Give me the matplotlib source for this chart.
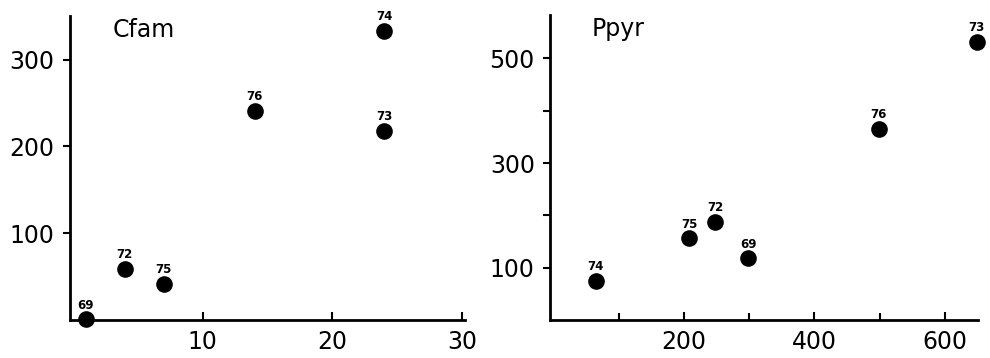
import matplotlib.pyplot as plt

# Cfam panel
cfam_x = [1, 4, 7, 14, 24, 24]
cfam_y = [1, 59, 42, 241, 218, 333]
cfam_labels = ['69', '72', '75', '76', '73', '74']

# Ppyr panel
ppyr_x = [65, 208, 248, 299, 499, 649]
ppyr_y = [75, 156, 188, 118, 366, 532]
ppyr_labels = ['74', '75', '72', '69', '76', '73']

plt.rcParams['font.family'] = ['DejaVu Sans']

fig = plt.figure(figsize=(9.9, 3.58), dpi=100)
ax1 = fig.add_axes([0.0707, 0.106, 0.399, 0.849])
ax2 = fig.add_axes([0.5556, 0.106, 0.4323, 0.852])


def style(ax):
    for s in ['top', 'right']:
        ax.spines[s].set_visible(False)
    for s in ['left', 'bottom']:
        ax.spines[s].set_linewidth(2)
    ax.tick_params(axis='x', direction='in', length=6, width=1.5, pad=7, labelsize=17)
    ax.tick_params(axis='y', direction='out', length=5, width=1.5, pad=6, labelsize=17)
    ax.tick_params(which='minor', length=5, width=1.5)


def draw(ax, xs, ys, labels, title, tx):
    ax.scatter(xs, ys, s=120, color='black', zorder=3, clip_on=False)
    for x, y, t in zip(xs, ys, labels):
        ax.annotate(t, (x, y), xytext=(0, 5.5), textcoords='offset points',
                    ha='center', va='bottom', fontsize=8.5, fontweight='bold')
    ax.text(tx, 0.995, title, transform=ax.transAxes, fontsize=17, va='top', ha='left')
    style(ax)


draw(ax1, cfam_x, cfam_y, cfam_labels, 'Cfam', 0.108)
ax1.set_xlim(-0.2, 30.2)
ax1.set_ylim(0, 350)
ax1.set_xticks([10, 20, 30])
ax1.set_yticks([100, 200, 300])

draw(ax2, ppyr_x, ppyr_y, ppyr_labels, 'Ppyr', 0.098)
ax2.set_xlim(-5, 651)
ax2.set_ylim(0, 583)
ax2.set_xticks([200, 400, 600])
ax2.set_xticks([100, 300, 500], minor=True)
ax2.set_yticks([100, 300, 500])
ax2.set_yticks([200, 400], minor=True)
ax2.tick_params(axis='x', which='minor', direction='in')
ax2.tick_params(axis='y', which='minor', direction='out')

fig.savefig('out.png', dpi=100)
